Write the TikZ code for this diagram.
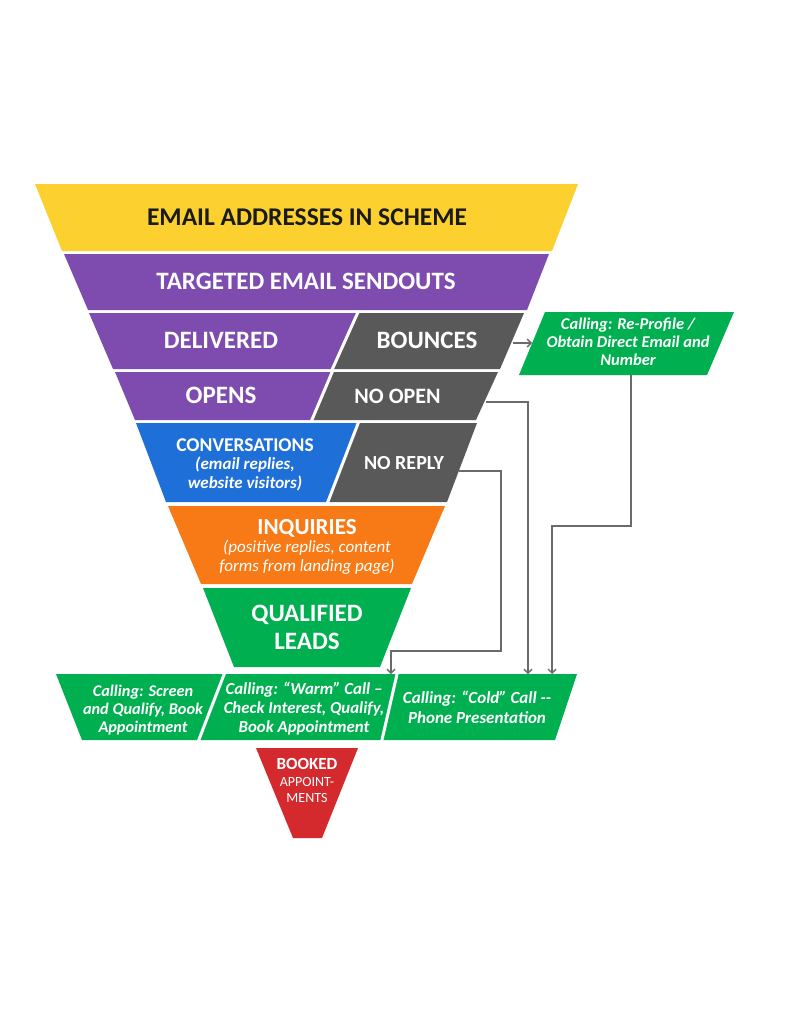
\documentclass[tikz,border=0pt]{standalone}
\usepackage{fontspec}
\setmainfont{Carlito}
\usetikzlibrary{arrows.meta}
\definecolor{cYellow}{HTML}{FCD12F}
\definecolor{cPurple}{HTML}{7E4BAE}
\definecolor{cGrey}{HTML}{595959}
\definecolor{cBlue}{HTML}{1F6FD8}
\definecolor{cOrange}{HTML}{F87A17}
\definecolor{cGreen}{HTML}{00AF50}
\definecolor{cRed}{HTML}{D42A2E}
\definecolor{cLine}{HTML}{6A6A6A}
\definecolor{cTitle}{HTML}{1A1A1A}
\newcommand\myfs[2]{\fontsize{#1}{#2}\selectfont}
\begin{document}
\begin{tikzpicture}[x=1pt,y=-1pt,
  gapline/.style={draw=white,line width=3pt},
  lbl/.style={text=white,align=center,inner sep=0pt,anchor=base},
  big/.style={lbl,font=\bfseries\myfs{25}{30}},
  mid/.style={lbl,font=\bfseries\myfs{22}{27}},
  sub/.style={lbl,font=\bfseries\itshape\myfs{17}{18.3}},
  conn/.style={draw=cLine,line width=1.3pt},
  arr/.style={conn,-{Straight Barb[length=4pt,width=8pt]}}]
\useasboundingbox (0,0) rectangle (795,1030);
\fill[white] (0,0) rectangle (795,1030);
% funnel bands
\fill[cYellow] (35,184) -- (578,184) -- (552,251) -- (62,251) -- cycle;
\fill[cPurple] (64,254) -- (549,254) -- (527,310) -- (88,310) -- cycle;
\fill[cPurple] (89,313) -- (357,313) -- (333,369) -- (113,369) -- cycle;
\fill[cGrey] (357,313) -- (524,313) -- (500,369) -- (333,369) -- cycle;
\draw[gapline] (358.5,311) -- (331.5,371);
\fill[cPurple] (115,372) -- (332,372) -- (312,420) -- (135,420) -- cycle;
\fill[cGrey] (332,372) -- (498,372) -- (476,420) -- (312,420) -- cycle;
\draw[gapline] (333,370) -- (311,422);
\fill[cBlue] (136,423) -- (358,423) -- (328,502) -- (166,502) -- cycle;
\fill[cGrey] (358,423) -- (477,423) -- (447,502) -- (328,502) -- cycle;
\draw[gapline] (359,421) -- (327,504);
\fill[cOrange] (168,506) -- (445,506) -- (412,584) -- (201,584) -- cycle;
\fill[cGreen] (203,588) -- (411,588) -- (380,667) -- (234,667) -- cycle;
% calling row
\fill[cGreen] (56,674) -- (224,674) -- (199,740) -- (82,740) -- cycle;
\fill[cGreen] (224,674) -- (397,674) -- (382,740) -- (199,740) -- cycle;
\fill[cGreen] (397,674) -- (577,674) -- (555,740) -- (382,740) -- cycle;
\draw[gapline] (225,672) -- (198,742);
\draw[gapline] (397.5,672) -- (381.5,742);
% booked
\fill[cRed] (256,748) -- (358,748) -- (322,838) -- (293,838) -- cycle;
% side box
\fill[cGreen] (545,312) -- (734,312) -- (707,375) -- (519,375) -- cycle;

% labels (anchor base = baseline of the last line)
\node[big,text=cTitle,font=\bfseries\myfs{25.5}{30}] (email) at (307,225) {EMAIL ADDRESSES IN SCHEME};
\node[big] (sendouts) at (306,289) {TARGETED EMAIL SENDOUTS};
\node[big] (delivered) at (221,348) {DELIVERED};
\node[big] (bounces) at (427,348) {BOUNCES};
\node[big] (opens) at (221,403) {OPENS};
\node[mid] (noopen) at (397.5,403) {NO OPEN};
\node[lbl,font=\bfseries\myfs{19.5}{20}] (conv) at (245,451) {CONVERSATIONS};
\node[sub] (convsub) at (245,488) {(email replies,\\website visitors)};
\node[lbl,font=\bfseries\myfs{20}{20}] (noreply) at (404,469) {NO REPLY};
\node[lbl,font=\bfseries\myfs{23}{25}] (inq) at (307,534) {INQUIRIES};
\node[sub,font=\itshape\myfs{17}{18.5}] (inqsub) at (307,571) {(positive replies, content\\forms from landing page)};
\node[big,font=\bfseries\myfs{25}{28}] (qual) at (307,649) {QUALIFIED\\LEADS};
\node[sub,font=\bfseries\itshape\myfs{16.3}{17.8}] (screen) at (143,732) {Calling: Screen\\and Qualify, Book\\Appointment};
\node[sub,font=\bfseries\itshape\myfs{16.8}{19}] (warm) at (304,732) {Calling: “Warm” Call –\\Check Interest, Qualify,\\Book Appointment};
\node[sub,font=\bfseries\itshape\myfs{17}{20}] (cold) at (477,723) {Calling: “Cold” Call -\kern0pt-\\Phone Presentation};
\node[lbl,font=\bfseries\myfs{17}{17}] (booked) at (307,769) {BOOKED};
\node[lbl,font=\myfs{14}{16}] (appoint) at (307,802) {APPOINT-\\MENTS};
\node[sub,font=\bfseries\itshape\myfs{16.5}{18}] (reprofile) at (628,365) {Calling: Re-Profile /\\Obtain Direct Email and\\Number};

% connector points
\coordinate (bncOut) at (513,343);
\coordinate (rpIn) at (532,343);
\coordinate (rpOut) at (631,375);
\coordinate (noOut) at (486,402);
\coordinate (nrOut) at (459,471);
\coordinate (warmIn) at (391,674);
\coordinate (coldInA) at (528,674);
\coordinate (coldInB) at (552,674);

\draw[arr] (bncOut) -- (rpIn);
\draw[arr] (rpOut) -- (631,526) -| (coldInB);
\draw[arr] (noOut) -| (coldInA);
\draw[arr] (nrOut) -- (501,471) -- (501,651) -| (warmIn);
\end{tikzpicture}
\end{document}
